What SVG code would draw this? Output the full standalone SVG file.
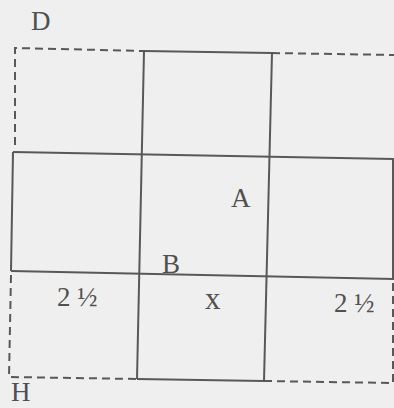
<svg xmlns="http://www.w3.org/2000/svg" width="394" height="408" viewBox="0 0 394 408">
<style>
.s{fill:none;stroke:#585858;stroke-width:2}
.d{fill:none;stroke:#585858;stroke-width:2;stroke-dasharray:8 5}
text{font-family:"Liberation Serif","Times New Roman",serif;fill:#505050;font-size:27px}
</style>
<rect width="394" height="408" fill="#efefef"/>
<g id="grid">
<path class="d" d="M15,145 L15,48 L144,51"/>
<path class="s" d="M144,51 L272,53"/>
<path class="d" d="M272,53 L394,55"/>
<path class="s" d="M13,152 L394,159"/>
<path class="s" d="M11,271 L394,279"/>
<path class="s" d="M13,152 L11,271"/>
<path class="s" d="M144,51 L137,379"/>
<path class="s" d="M272,53 L264,381"/>
<path class="s" d="M393,159 L393,279"/>
<path class="d" d="M11,275 L9,377 L137,379"/>
<path class="s" d="M137,379 L264,381"/>
<path class="d" d="M264,381 L393,383 L393,281"/>
</g>
<g id="labels">
<text x="31" y="30">D</text>
<text x="231" y="207">A</text>
<text x="162" y="273">B</text>
<text x="57" y="306">2 ½</text>
<text x="205" y="309" style="font-size:31px">x</text>
<text x="334" y="312">2 ½</text>
<text x="11" y="401">H</text>
</g>
</svg>
